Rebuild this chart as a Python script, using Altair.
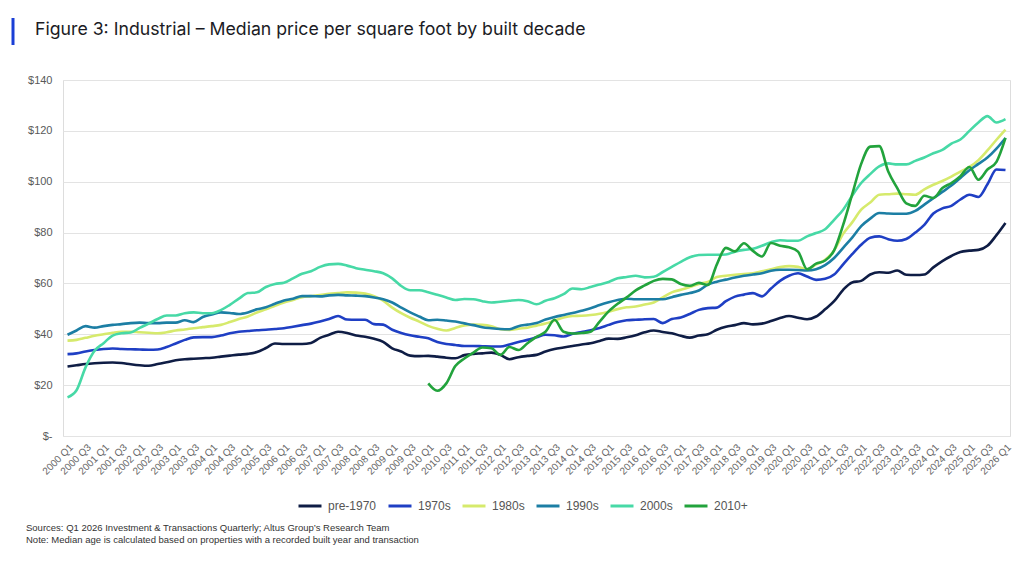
import altair as alt
import pandas as pd

# ---------------- data ----------------
quarters = [f"{y} Q{q}" for y in range(2000, 2027) for q in range(1, 5)][:105]
tick_labels = quarters[::2]

series_names = ["pre-1970", "1970s", "1980s", "1990s", "2000s", "2010+"]
series_colors = ["#0f1d45", "#1f3fc4", "#d6ea6c", "#1c7ea4", "#47d9a6", "#22a33c"]

pre1970 = [27.3, 27.8, 28.3, 28.6, 28.8, 28.9, 28.7, 28.2, 27.8, 27.6,
           28.3, 29.0, 29.8, 30.2, 30.4, 30.6, 30.8, 31.2, 31.6, 32.0,
           32.3, 33.0, 34.6, 36.4, 36.2, 36.2, 36.2, 36.6, 38.6, 39.8,
           41.0, 40.5, 39.5, 39.0, 38.2, 37.0, 34.5, 33.2, 31.6, 31.4,
           31.5, 31.2, 30.8, 30.6, 31.8, 32.3, 32.5, 32.8, 31.9, 30.2,
           31.0, 31.5, 31.9, 33.2, 34.2, 34.8, 35.4, 36.0, 36.5, 37.4,
           38.3, 38.2, 38.8, 39.6, 40.8, 41.5, 40.9, 40.4, 39.4, 38.7,
           39.5, 40.0, 41.8, 43.0, 43.6, 44.4, 43.9, 44.2, 45.2, 46.4,
           47.2, 46.5, 45.9, 47.0, 49.8, 53.0, 57.5, 60.4, 61.0, 63.5,
           64.4, 64.2, 65.1, 63.4, 63.3, 63.5, 66.3, 68.8, 70.8, 72.4,
           72.9, 73.2, 74.8, 79.0, 83.8]

s1970s = [32.2, 32.5, 33.2, 33.8, 34.2, 34.4, 34.2, 34.1, 34.0, 33.9,
          34.0, 35.0, 36.4, 37.8, 38.8, 38.9, 38.9, 39.5, 40.4, 41.0,
          41.3, 41.6, 41.8, 42.1, 42.4, 43.0, 43.6, 44.2, 45.0, 46.0,
          47.2, 45.8, 45.7, 45.7, 44.0, 43.8, 41.8, 40.5, 39.6, 39.0,
          38.4, 37.0, 36.2, 35.8, 35.4, 35.4, 35.3, 35.2, 35.2, 36.0,
          37.0, 37.8, 38.8, 39.8, 39.6, 39.1, 40.2, 40.9, 41.6, 42.5,
          43.7, 44.8, 45.5, 45.7, 45.9, 46.0, 44.4, 46.0, 46.6, 48.0,
          49.6, 50.3, 50.5, 53.0, 54.8, 55.6, 56.2, 54.9, 58.0, 61.0,
          63.0, 64.0, 62.7, 61.4, 61.8, 63.5, 67.5, 71.5, 75.2, 78.0,
          78.5, 77.4, 76.8, 77.5, 80.0, 83.0, 87.5, 89.5, 90.5, 93.0,
          94.9, 94.0, 99.0, 104.8, 104.6]

s1980s = [37.5, 37.8, 38.6, 39.4, 40.0, 40.6, 41.0, 41.0, 40.8, 40.6,
          40.4, 40.8, 41.5, 41.9, 42.4, 42.8, 43.2, 43.7, 44.8, 46.0,
          47.0, 48.6, 49.8, 51.2, 52.5, 53.5, 54.6, 55.0, 55.4, 55.9,
          56.2, 56.5, 56.4, 56.0, 55.0, 53.2, 50.5, 48.3, 46.5, 45.0,
          43.3, 42.2, 41.5, 42.5, 43.5, 43.8, 43.7, 43.2, 42.0, 41.7,
          42.2, 42.6, 43.4, 44.2, 45.4, 46.6, 47.2, 47.3, 47.6, 48.1,
          48.9, 49.9, 50.6, 50.9, 51.7, 52.5, 54.5, 56.5, 57.5, 58.6,
          59.8, 60.6, 62.5, 63.0, 63.4, 63.7, 64.0, 64.8, 65.6, 66.4,
          66.8, 66.5, 65.6, 67.5, 69.3, 73.0, 79.5, 84.0, 89.0, 91.8,
          94.9, 95.1, 95.3, 95.1, 94.9, 97.0, 98.8, 100.3, 102.0, 104.0,
          105.8, 108.5, 112.3, 116.5, 120.5]

s1990s = [39.8, 41.5, 43.2, 42.6, 43.2, 43.7, 44.0, 44.4, 44.6, 44.4,
          44.4, 44.6, 44.6, 45.5, 44.8, 46.8, 47.8, 48.6, 48.4, 48.0,
          48.6, 49.8, 50.6, 52.0, 53.3, 54.0, 55.0, 55.0, 54.9, 55.3,
          55.5, 55.3, 55.2, 55.0, 54.5, 53.8, 52.5, 50.5, 48.6, 47.0,
          45.5, 45.7, 45.4, 45.0, 44.3, 43.6, 42.8, 42.4, 42.1, 42.0,
          43.2, 43.8, 44.4, 45.8, 46.8, 47.6, 48.4, 49.3, 50.2, 51.5,
          52.6, 53.5, 54.0, 53.8, 53.8, 53.8, 53.8, 54.6, 55.5, 56.2,
          57.2, 59.5, 60.7, 61.5, 62.3, 63.0, 63.5, 64.0, 65.0, 65.4,
          65.4, 65.3, 65.1, 65.6, 67.2, 70.0, 74.0, 78.0, 82.5, 85.5,
          87.7, 87.5, 87.4, 87.4, 88.5, 91.0, 93.5, 96.0, 98.5, 101.5,
          104.5, 107.0, 109.5, 113.0, 117.2]

s2000s = [15.2, 18.0, 27.0, 33.5, 36.5, 39.5, 40.4, 40.7, 42.5, 44.2,
          46.0, 47.4, 47.4, 48.3, 48.6, 48.3, 48.3, 49.5, 51.6, 54.0,
          56.2, 56.5, 58.6, 59.8, 60.3, 62.0, 63.8, 64.8, 66.5, 67.5,
          67.7, 67.0, 66.0, 65.4, 64.8, 64.0, 62.0, 59.0, 57.3, 57.3,
          56.5, 55.5, 54.5, 53.5, 53.9, 53.8, 53.0, 52.5, 52.8, 53.2,
          53.5, 53.0, 51.8, 53.2, 54.2, 55.8, 58.0, 57.7, 58.6, 59.6,
          60.6, 62.0, 62.5, 63.0, 62.4, 62.6, 64.5, 66.5, 68.5, 70.3,
          71.2, 71.3, 71.3, 71.4, 72.5, 73.2, 73.6, 74.8, 76.2, 77.0,
          76.8, 76.8, 78.5, 79.8, 81.3, 85.0, 89.0, 94.5, 99.5, 103.0,
          106.0, 107.2, 106.8, 106.8, 108.2, 109.5, 111.2, 112.5, 115.0, 116.6,
          120.0, 123.3, 125.8, 123.3, 124.6]

s2010plus = [None] * 40 + [
          20.7, 17.8, 20.7, 27.5, 30.5, 32.8, 34.8, 34.5, 31.9, 35.0,
          33.8, 36.5, 39.0, 41.0, 45.7, 41.0, 40.3, 40.5, 41.0, 45.0,
          49.0, 52.0, 54.5, 57.3, 59.2, 61.0, 61.8, 61.6, 59.8, 59.1,
          60.2, 59.4, 67.5, 74.0, 72.6, 75.8, 72.8, 70.6, 75.9, 74.8,
          74.2, 72.5, 65.6, 67.8, 69.0, 73.0, 83.0, 95.0, 107.0, 113.8,
          114.0, 104.0, 97.5, 91.5, 90.5, 94.5, 93.6, 97.5, 99.5, 102.2,
          105.8, 100.8, 104.8, 107.8, 117.2]

title_text = "Figure 3: Industrial \u2013 Median price per square foot by built decade"
source_text = "Sources: Q1 2026 Investment & Transactions Quarterly; Altus Group\u2019s Research Team"
note_text = "Note: Median age is calculated based on properties with a recorded built year and transaction"

# ---------------- build table ----------------
all_series = [pre1970, s1970s, s1980s, s1990s, s2000s, s2010plus]
rows = []
for name, vals in zip(series_names, all_series):
    for q, v in zip(quarters, vals):
        if v is not None:
            rows.append({"quarter": q, "series": name, "value": v})
df = pd.DataFrame(rows)

W, H = 947, 356
LEFT, TOP = 63, 80

lines = alt.Chart(df).mark_line(strokeWidth=2.6, interpolate="monotone").encode(
    x=alt.X("quarter:O", sort=quarters, title=None,
            scale=alt.Scale(padding=0.5),
            axis=alt.Axis(values=tick_labels, labelAngle=-45, labelFontSize=10,
                          labelColor="#666666", labelFont="Liberation Sans",
                          ticks=False, domain=False, grid=False, labelPadding=6,
                          labelOverlap=False)),
    y=alt.Y("value:Q", title=None,
            scale=alt.Scale(domain=[0, 140], nice=False),
            axis=alt.Axis(values=[0, 20, 40, 60, 80, 100, 120, 140],
                          labelExpr="datum.value == 0 ? '$-' : '$' + datum.value",
                          labelFontSize=11, labelColor="#595959", labelFont="Liberation Sans",
                          ticks=False, domain=False, gridColor="#e3e3e3", gridWidth=1,
                          labelPadding=11)),
    color=alt.Color("series:N", sort=series_names,
                    scale=alt.Scale(domain=series_names, range=series_colors),
                    legend=alt.Legend(title=None, orient="none", direction="horizontal",
                                      legendX=297 - LEFT, legendY=493 - TOP,
                                      symbolType="stroke", symbolStrokeWidth=3,
                                      symbolSize=529, labelFontSize=12,
                                      labelColor="#555555", labelFont="Liberation Sans",
                                      gridAlign="none", columnPadding=5, labelOffset=5)),
    detail="series:N",
)

title_df = pd.DataFrame({"t": [title_text]})
title = alt.Chart(title_df).mark_text(
    align="left", baseline="middle", fontSize=17.7, font="Inter", color="#1b1b24"
).encode(text="t:N", x=alt.value(35 - LEFT), y=alt.value(30 - TOP))

bar = alt.Chart(title_df).mark_rule(color="#1a3fd6", strokeWidth=3).encode(
    x=alt.value(13 - LEFT), y=alt.value(18 - TOP), y2=alt.value(45 - TOP))

src_df = pd.DataFrame({"t": [source_text]})
src = alt.Chart(src_df).mark_text(
    align="left", baseline="middle", fontSize=9.5, font="Liberation Sans", color="#333333"
).encode(text="t:N", x=alt.value(26 - LEFT), y=alt.value(528 - TOP))

note_df = pd.DataFrame({"t": [note_text]})
note = alt.Chart(note_df).mark_text(
    align="left", baseline="middle", fontSize=9.5, font="Liberation Sans", color="#333333"
).encode(text="t:N", x=alt.value(26 - LEFT), y=alt.value(540 - TOP))

chart = alt.layer(lines, title, bar, src, note).properties(
    width=W, height=H,
    autosize=alt.AutoSizeParams(type="none"),
    padding={"left": LEFT, "top": TOP, "right": 1024 - LEFT - W, "bottom": 564 - TOP - H},
).configure_view(stroke=None).configure(background="white")

chart.save("out.html", embed_options={"renderer": "svg", "actions": False})
